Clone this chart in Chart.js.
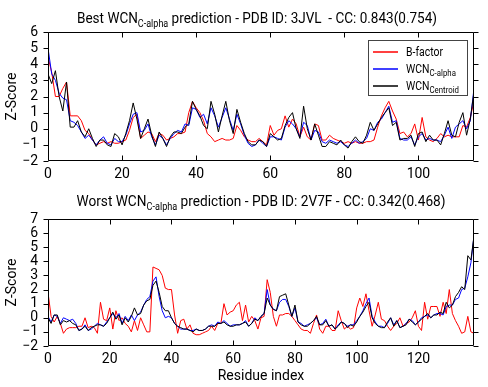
<!DOCTYPE html>
<html>
<head>
<meta charset="utf-8">
<script src="https://cdn.jsdelivr.net/npm/chart.js@4/dist/chart.umd.min.js"></script>
<style>
  body { margin: 0; background: #fff; }
  canvas { display: block; }
</style>
</head>
<body>
<canvas id="best" width="488" height="186"></canvas>
<canvas id="worst" width="488" height="201"></canvas>
<script>
// Данные: Z-score по остаткам
const seriesNames = ['B-factor', 'WCN', 'WCN'];
const seriesSubs = ['', 'C-alpha', 'Centroid'];
const seriesColors = ['#ff0000', '#0000ff', '#000000'];

// 3JVL (лучший)
const bestBfactor = [
  4.45, 3.5, 2.0, 2.0, 2.5, 2.9, 0.8, 0.8, 0.8, 0.5,
  -0.1, -0.3, -0.7, -1.0, -0.9, -0.8, -0.9, -0.8, -0.9, -0.9,
  -0.8, -0.7, -0.1, 0.7, 0.9, -0.6, -0.4, -0.2, -0.3, -0.8,
  -0.3, -0.4, -0.7, -0.6, -0.5, -0.3, -0.3, -0.2, 1.0, 1.7,
  1.3, 1.0, 0.5, -0.3, -0.5, -0.8, -0.7, -0.6, -0.7, -0.7,
  -0.6, 0.2, -0.1, -0.5, -0.7, -0.8, -0.8, -0.6, -0.8, -1.0,
  0.2, -0.4, -0.1, 0.0, 0.8, 0.1, 0.6, 0.3, -0.5, 0.1,
  -0.5, -0.7, 0.3, 0.2, -0.7, -0.7, -0.4, -0.6, -0.7, -0.8,
  -0.9, -0.8, -0.9, -0.8, -0.9, -0.9, -0.8, -0.8, -0.7, 0.1,
  0.8, 1.3, 1.7, 1.1, 0.6, -0.3, -0.2, -0.5, -0.3, 0.3,
  -0.7, 0.7, -0.5, -0.7, -0.8, -0.6, -0.3, -0.5, -0.4, -0.5,
  -0.5, -0.5, 0.2, 0.1, 0.7, 1.7
];
const bestCalpha = [
  5.0, 3.4, 3.0, 2.2, 1.9, 1.8, 0.5, 0.4, 0.2, -0.2,
  -0.6, -0.4, -0.7, -1.0, -0.7, -0.5, -0.9, -1.0, -0.6, -0.8,
  -0.8, -0.4, 0.3, 0.9, 1.0, -0.2, -0.1, 0.3, -0.5, -1.0,
  -0.4, -0.6, -1.0, -0.6, -0.3, -0.1, -0.2, 0.3, 0.2, 1.3,
  1.2, 0.7, 0.9, 0.3, 1.3, 0.8, 0.1, 0.7, 1.3, 0.6,
  -0.1, 0.9, 0.3, -0.4, -0.9, -1.1, -1.0, -0.7, -0.9, -1.1,
  -0.5, -0.5, -0.6, -0.7, 0.1, 0.5, 0.3, 0.0, -0.5, 0.4,
  0.2, -0.7, -0.1, -0.2, -0.8, -0.9, -0.7, -0.8, -0.9, -0.8,
  -1.0, -1.1, -0.9, -0.7, -0.9, -0.8, -0.6, 0.0, -0.1, 0.4,
  0.6, 1.0, 1.4, 0.4, 0.5, -0.6, -0.7, -0.7, -0.5, -1.0,
  -0.5, -0.3, -0.7, -0.6, -0.7, -0.7, -0.8, -0.4, 0.1, -0.6,
  0.1, 0.3, 0.5, 0.0, 0.5, 2.5
];
const bestCentroid = [
  3.4, 2.8, 3.6, 2.0, 1.1, 2.9, 0.1, 0.1, 0.5, -0.2,
  -0.5, 0.0, -0.6, -1.1, -0.7, -0.7, -1.0, -1.1, -0.3, -0.5,
  -1.0, -0.3, 0.5, 1.6, 0.6, -0.6, 0.0, 0.6, -0.4, -1.1,
  -0.2, -0.6, -1.1, -0.5, -0.2, -0.2, -0.3, 0.1, 0.3, 1.7,
  1.2, 0.8, 0.2, 0.0, 1.7, 0.9, -0.2, 0.8, 1.7, 0.5,
  -0.3, 1.2, 0.4, -0.3, -0.8, -1.0, -1.0, -0.7, -0.8, -1.1,
  -0.3, -0.5, -0.7, -0.6, 0.2, 0.7, 1.0, 0.0, -0.6, 1.4,
  0.0, -0.7, 0.3, -0.4, -1.1, -1.1, -0.8, -0.9, -1.0, -0.7,
  -1.0, -1.2, -0.8, -0.5, -0.8, -0.9, -0.4, 0.4, -0.1, 0.3,
  0.7, 1.0, 1.3, 0.2, 0.4, -0.7, -0.6, -0.6, -0.4, -1.1,
  -0.3, -0.2, -0.8, -0.4, -0.7, -0.7, -1.0, -0.3, 0.5, -0.4,
  -0.5, 0.4, 1.0, -0.4, 0.6, 2.3
];

// 2V7F (худший)
const worstBfactor = [
  1.8, 0.1, -0.3, 0.1, -0.4, -1.1, -0.8, -0.7, -0.7, -0.7,
  -0.6, -0.6, 0.0, -0.7, -0.6, -0.7, -1.1, 1.1, -0.1, -0.2,
  0.7, -0.8, 0.5, -0.2, 0.0, -0.4, -0.6, -1.0, -0.2, -0.9,
  0.0, -0.5, -1.0, -1.0, 3.6, 3.5, 3.4, 3.0, 2.1, 2.0,
  2.0, 0.2, -1.1, -0.2, -0.1, -0.8, -0.5, -1.1, -1.2, -1.2,
  -1.1, -1.0, -0.9, -0.6, -0.9, -0.4, -0.4, 1.0, 0.2, 0.4,
  0.5, 0.9, 1.1, -0.2, 0.9, -0.3, 0.1, -0.2, -0.8, 0.0,
  0.1, 2.7, 1.8, 0.1, -0.6, 0.2, 0.2, 0.3, 0.3, 0.1,
  -0.2, -0.5, -0.8, -0.9, -0.9, -1.1, -0.4, 0.2, -0.8, -1.1,
  -0.6, -0.6, -0.9, -0.9, 0.5, -0.2, -0.8, -0.6, -0.8, -0.7,
  0.7, 1.4, 0.8, 1.7, 0.5, -0.6, 0.2, 1.1, -0.1, -0.2,
  -0.6, -0.9, -0.6, -0.4, 0.0, -0.6, -0.4, -0.3, 0.0, 0.5,
  -0.6, -0.9, 1.1, -0.1, 0.8, 0.8, 0.8, 0.1, 1.1, 0.3,
  2.0, 0.3, -0.2, -0.6, -1.1, -1.0, 0.1, -1.0, -1.1
];
const worstCalpha = [
  0.1, -0.3, 0.2, 0.1, -0.4, 0.0, -0.1, -0.2, -0.1, -0.4,
  -0.9, -0.8, -0.5, -0.9, -0.8, -0.6, -0.4, -0.5, -0.6, -0.3,
  0.0, 0.3, 0.0, 0.3, -0.4, 0.1, -0.2, 0.2, -0.2, 0.2,
  0.4, 0.9, 1.3, 1.5, 2.6, 2.9, 1.5, 0.5, 0.0, 0.1,
  0.0, -0.4, -0.6, -0.8, -0.8, -0.8, -0.9, -0.9, -0.8, -0.9,
  -0.9, -0.8, -0.6, -0.5, -0.6, -0.3, -0.4, -0.2, -0.4, -0.6,
  -0.5, -0.5, -0.5, -0.4, -0.2, -0.6, -0.4, 0.0, -0.2, 0.1,
  0.3, 2.0, 0.9, 0.6, 0.5, 1.1, 1.3, 1.3, 0.8, 0.1,
  0.7, -0.3, -0.4, -0.6, -0.5, -0.4, -0.2, 0.0, -0.5, -0.4,
  -0.1, -0.6, -0.5, -0.8, -0.5, -0.3, -0.4, -0.6, -0.5, -0.5,
  -0.2, 0.1, 0.5, 1.0, 1.4, 0.1, -0.3, -0.6, -0.6, -0.7,
  -0.4, 0.0, -0.5, -0.2, -0.7, -0.6, -0.4, -0.1, -0.2, -0.5,
  -0.3, 0.0, 0.1, 0.2, 0.0, 0.2, 0.3, 0.3, 0.2, 0.8,
  0.9, 0.9, 1.3, 1.4, 2.0, 2.1, 2.9, 3.9, 5.8
];
const worstCentroid = [
  0.0, -0.4, 0.2, 0.2, -0.5, -0.2, -0.3, -0.2, -0.4, -0.5,
  -0.9, -0.8, -0.6, -0.9, -0.7, -0.6, -0.5, -0.5, -0.6, -0.4,
  0.0, 0.4, -0.1, 0.2, -0.5, 0.0, -0.3, 0.1, 0.7, 0.2,
  0.3, 0.9, 1.2, 1.3, 2.3, 2.6, 1.8, 0.8, 0.5, 0.5,
  0.0, -0.4, -0.6, -0.7, -0.8, -0.8, -0.9, -1.0, -0.8, -0.9,
  -0.9, -0.8, -0.6, -0.6, -0.6, -0.4, -0.4, -0.3, -0.5, -0.6,
  -0.6, -0.5, -0.5, -0.4, -0.3, -0.6, -0.4, -0.1, -0.2, 0.1,
  0.3, 1.4, 0.9, 0.6, 0.5, 1.5, 1.6, 1.7, 0.9, 0.1,
  0.9, -0.3, -0.5, -0.6, -0.6, -0.4, -0.2, 0.1, -0.5, -0.5,
  -0.2, -0.6, -0.5, -0.8, -0.6, -0.3, -0.4, -0.7, -0.5, -0.6,
  -0.3, 0.1, 0.4, 0.8, 1.1, 0.0, -0.4, -0.6, -0.7, -0.7,
  -0.3, 0.0, -0.6, -0.2, -0.7, -0.6, -0.5, -0.1, -0.3, -0.5,
  -0.3, -0.1, 0.1, 0.3, 0.0, 0.2, 0.2, 0.4, 0.3, 1.1,
  0.7, 0.9, 1.5, 1.8, 2.2, 2.0, 4.4, 4.1, 5.8
];

const FONT = 'Roboto';

// Текст с нижним индексом (WCN_C-alpha); width — нужная ширина или null
function drawRich(ctx, parts, x, baseline, size, subSize, sx, align, width) {
  ctx.save();
  let w = 0;
  parts.forEach(p => {
    ctx.font = (p.sub ? subSize : size) + 'px ' + FONT;
    p.w = ctx.measureText(p.t).width;
    w += p.w;
  });
  if (width) sx = width / w;
  const startX = align === 'center' ? x - w * sx / 2 : x;
  ctx.translate(startX, baseline);
  ctx.scale(sx, 1);
  ctx.fillStyle = '#000';
  ctx.textBaseline = 'alphabetic';
  let cx = 0;
  parts.forEach(p => {
    ctx.font = (p.sub ? subSize : size) + 'px ' + FONT;
    ctx.fillText(p.t, cx, p.sub ? size * 0.28 : 0);
    cx += p.w;
  });
  ctx.restore();
}

// Рамка, засечки, заголовок и легенда
const framePlugin = {
  id: 'frame',
  afterDraw(chart) {
    const { ctx, chartArea: a, scales } = chart;
    const L = Math.round(a.left) + 0.5, R = Math.round(a.right) - 0.5;
    const T = Math.round(a.top) + 0.5, B = Math.round(a.bottom) - 0.5;
    ctx.save();
    ctx.strokeStyle = '#000';
    ctx.lineWidth = 1;
    ctx.beginPath();
    ctx.rect(L, T, R - L, B - T);
    scales.x.ticks.forEach(t => {
      const px = Math.round(scales.x.getPixelForValue(t.value)) + 0.5;
      ctx.moveTo(px, B); ctx.lineTo(px, B - 5);
      ctx.moveTo(px, T); ctx.lineTo(px, T + 5);
    });
    scales.y.ticks.forEach(t => {
      const py = Math.round(scales.y.getPixelForValue(t.value)) + 0.5;
      ctx.moveTo(L, py); ctx.lineTo(L - 5, py);
      ctx.moveTo(R, py); ctx.lineTo(R + 5, py);
    });
    ctx.stroke();
    ctx.restore();

    const o = chart.options.plugins.richText;
    drawRich(ctx, o.title, o.titleX, o.titleY, 15, 10, 1, 'center', o.titleW);

    if (o.legend) {
      const lg = o.legend;
      ctx.save();
      ctx.fillStyle = '#fff';
      ctx.fillRect(lg.x, lg.y, lg.w, lg.h);
      ctx.strokeStyle = '#444';
      ctx.lineWidth = 1;
      ctx.strokeRect(lg.x + 0.5, lg.y + 0.5, lg.w - 1, lg.h - 1);
      for (let k = 0; k < 3; k++) {
        const y = lg.y + 12 + k * 17;
        ctx.strokeStyle = seriesColors[k];
        ctx.lineWidth = 1.5;
        ctx.beginPath();
        ctx.moveTo(lg.x + 5, y);
        ctx.lineTo(lg.x + 30, y);
        ctx.stroke();
        drawRich(ctx, [{ t: seriesNames[k] }, { t: seriesSubs[k], sub: true }],
          lg.x + 38, y + 4, 12, 9, 0.87, 'left');
      }
      ctx.restore();
    }
  }
};

function minusSign(v) {
  return String(v).replace('-', '\u2212');
}

function makeChart(id, series, xMax, yMax, opts) {
  const datasets = [2, 1, 0].map(k => ({
    label: seriesNames[k] + seriesSubs[k],
    data: series[k].map((v, i) => ({ x: i, y: v })),
    borderColor: seriesColors[k],
    borderWidth: 1,
    pointRadius: 0,
    tension: 0,
    fill: false
  }));
  return new Chart(document.getElementById(id), {
    type: 'line',
    data: { datasets },
    options: {
      responsive: false,
      animation: false,
      devicePixelRatio: 1,
      layout: { padding: { left: 0, right: 14, top: opts.top, bottom: 0 } },
      plugins: {
        legend: { display: false },
        tooltip: { enabled: false },
        richText: opts.rich
      },
      scales: {
        x: {
          type: 'linear',
          min: 0,
          max: xMax,
          grid: { display: false, drawTicks: false },
          border: { display: false },
          ticks: {
            stepSize: 20,
            includeBounds: false,
            autoSkip: false,
            color: '#000',
            padding: 5,
            font: { family: FONT, size: 14 },
            maxRotation: 0
          },
          title: {
            display: !!opts.xTitle,
            text: opts.xTitle || '',
            color: '#000',
            font: { family: FONT, size: 14 },
            padding: { top: 0, bottom: 2 }
          },
          afterFit(scale) { scale.height = opts.xHeight; }
        },
        y: {
          min: -2,
          max: yMax,
          grid: { display: false, drawTicks: false },
          border: { display: false },
          ticks: {
            stepSize: 1,
            autoSkip: false,
            color: '#000',
            padding: 10,
            font: { family: FONT, size: 14 },
            callback: v => minusSign(v)
          },
          title: {
            display: true,
            text: 'Z-Score',
            color: '#000',
            font: { family: FONT, size: 14 },
            padding: { top: 4, bottom: 0 }
          },
          afterFit(scale) { scale.width = 48; }
        }
      }
    },
    plugins: [framePlugin]
  });
}

makeChart('best', [bestBfactor, bestCalpha, bestCentroid], 115, 6, {
  top: 32,
  xHeight: 25,
  rich: {
    title: [
      { t: 'Best WCN' },
      { t: 'C-alpha', sub: true },
      { t: ' prediction - PDB ID: 3JVL  - CC: 0.843(0.754)' }
    ],
    titleX: 257,
    titleY: 23,
    titleW: 360,
    legend: { x: 368, y: 40, w: 100, h: 56 }
  }
});

makeChart('worst', [worstBfactor, worstCalpha, worstCentroid], 138, 7, {
  top: 33,
  xHeight: 41,
  xTitle: 'Residue index',
  rich: {
    title: [
      { t: 'Worst WCN' },
      { t: 'C-alpha', sub: true },
      { t: ' prediction - PDB ID: 2V7F - CC: 0.342(0.468)' }
    ],
    titleX: 261,
    titleY: 20,
    titleW: 369
  }
});
</script>
</body>
</html>
